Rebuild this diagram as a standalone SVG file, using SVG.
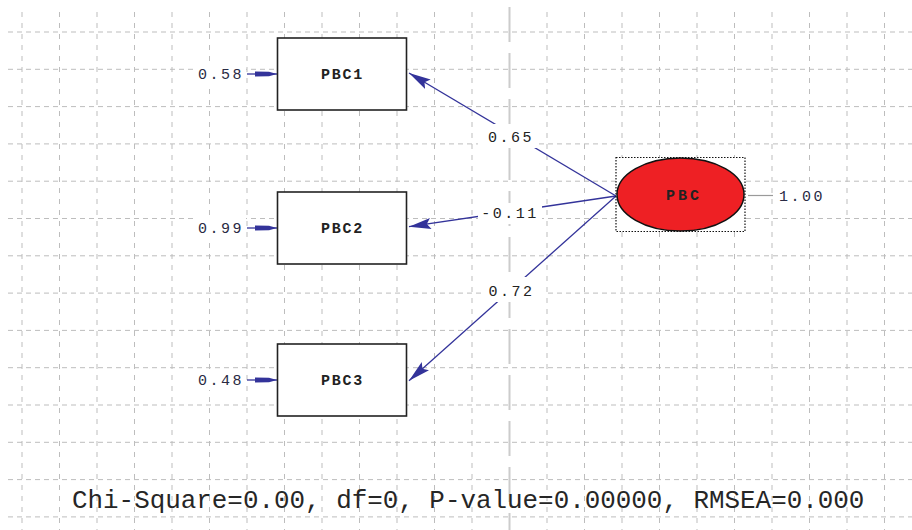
<svg xmlns="http://www.w3.org/2000/svg" width="912" height="530" viewBox="0 0 912 530">
<style>
.gh{fill:none;stroke:#bdbdbd;stroke-width:1;stroke-dasharray:5 4}
.gv{fill:none;stroke:#bdbdbd;stroke-width:1;stroke-dasharray:5 6}
.box{fill:#fff;stroke:#222;stroke-width:1.6}
.nlab{font-family:"Liberation Mono","Courier New",monospace;font-size:15px;font-weight:bold;fill:#222;letter-spacing:1.8px;text-anchor:middle}
.lab{font-family:"Liberation Mono","Courier New",monospace;font-size:15px;fill:#222;letter-spacing:2.5px;text-anchor:middle}
.elab{fill:#2a2a44}
.bg{fill:#fff}
.path{stroke:#33339a;stroke-width:1.3;fill:none;marker-end:url(#ah)}
.err{stroke:#33339a;stroke-width:1.3;fill:none;marker-end:url(#eh)}
</style>
<defs>
<marker id="ah" markerUnits="userSpaceOnUse" markerWidth="24" markerHeight="14" refX="22" refY="6" orient="auto">
<path d="M0,0.5 L22,6 L0,11.5 L4,6 Z" fill="#33339a"/>
</marker>
<marker id="eh" markerUnits="userSpaceOnUse" markerWidth="24" markerHeight="8" refX="22" refY="3" orient="auto">
<path d="M0,0.4 L14,0.8 L22,3 L14,5.2 L0,5.6 Z" fill="#33339a"/>
</marker>
</defs>
<rect width="912" height="530" fill="#fff"/>
<g id="grid">
<path class="gh" d="M8 32H912M8 69.3H912M8 106.6H912M8 143.9H912M8 181.2H912M8 218.5H912M8 255.8H912M8 293.1H912M8 330.4H912M8 367.7H912M8 405H912M8 442.3H912M8 479.6H912M8 516.9H912"/>
<path class="gv" d="M22 12V530M59.5 12V530M97 12V530M134.5 12V530M172 12V530M209.5 12V530M247 12V530M284.5 12V530M322 12V530M359.5 12V530M397 12V530M434.5 12V530M472 12V530M547 12V530M584.5 12V530M622 12V530M659.5 12V530M697 12V530M734.5 12V530M772 12V530M809.5 12V530M847 12V530M884.5 12V530"/>
<path d="M509.5 7V530" stroke="#cccccc" stroke-width="2" stroke-dasharray="35 11" fill="none"/>
</g>
<g id="connectors">
<line class="path" x1="616" y1="196" x2="409" y2="73"/>
<line class="path" x1="616" y1="196" x2="409" y2="226.7"/>
<line class="path" x1="616" y1="196" x2="409" y2="380.7"/>
<line class="err" x1="247" y1="74" x2="277" y2="74"/>
<line class="err" x1="247" y1="228" x2="277" y2="228"/>
<line class="err" x1="247" y1="380" x2="277" y2="380"/>
<line x1="748" y1="195.5" x2="773" y2="195.5" stroke="#9a9a9a" stroke-width="1.2"/>
<rect class="bg" x="478" y="124" width="60" height="24"/>
<text class="lab" x="511" y="142">0.65</text>
<rect class="bg" x="478" y="203" width="64" height="21"/>
<text class="lab" x="510" y="218">-0.11</text>
<rect class="bg" x="484" y="277" width="60" height="25"/>
<text class="lab" x="511.5" y="296">0.72</text>
<rect class="bg" x="194" y="64" width="52" height="20"/>
<text class="lab elab" x="221" y="79">0.58</text>
<rect class="bg" x="194" y="218" width="52" height="20"/>
<text class="lab elab" x="221" y="233">0.99</text>
<rect class="bg" x="194" y="370" width="52" height="20"/>
<text class="lab elab" x="221" y="385">0.48</text>
<rect class="bg" x="775" y="186" width="52" height="20"/>
<text class="lab elab" x="802" y="201">1.00</text>
</g>
<g id="PBC1">
<rect class="box" x="277.5" y="38" width="129" height="72"/>
<text class="nlab" x="342.5" y="79">PBC1</text>
</g>
<g id="PBC2">
<rect class="box" x="277.5" y="192" width="129" height="72"/>
<text class="nlab" x="342.5" y="233">PBC2</text>
</g>
<g id="PBC3">
<rect class="box" x="277.5" y="344" width="129" height="72"/>
<text class="nlab" x="342.5" y="385">PBC3</text>
</g>
<g id="PBC">
<rect x="616" y="157.5" width="129" height="74" fill="#fff" stroke="#111" stroke-width="1.2" stroke-dasharray="1.5 1.5"/>
<ellipse cx="680.5" cy="194.5" rx="63.5" ry="36.5" fill="#ee2024" stroke="#111" stroke-width="1.5"/>
<text class="nlab" x="684" y="200" style="letter-spacing:3px">PBC</text>
</g>
<text x="72" y="508" font-family="'Liberation Mono','Courier New',monospace" font-size="25.9" fill="#262626">Chi-Square=0.00, df=0, P-value=0.00000, RMSEA=0.000</text>
</svg>
